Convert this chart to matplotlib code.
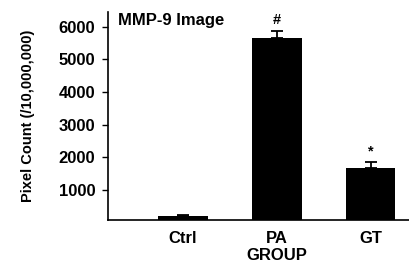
import numpy as np
import matplotlib.pyplot as plt

plt.rcParams['font.family'] = ['Liberation Sans', 'DejaVu Sans']
plt.rcParams['font.weight'] = 'bold'

groups = ["Ctrl", "PA", "GT"]
pixel_count = [210, 5640, 1670]
sem_upper = [35, 230, 170]
markers = ["", "#", "*"]
yticks = [1000, 2000, 3000, 4000, 5000, 6000]

fig = plt.figure(figsize=(4.1, 2.65), dpi=100)
ax = fig.add_axes([0.263, 0.17, 0.737, 0.785])

x = np.arange(len(groups))
ax.bar(x, pixel_count, width=0.53, color="black", zorder=2)
ax.errorbar(x, pixel_count, yerr=[np.zeros(len(x)), sem_upper], fmt="none",
            ecolor="black", elinewidth=1.3, capsize=4, capthick=1.3, zorder=1)

for xi, v, e, m in zip(x, pixel_count, sem_upper, markers):
    if m:
        ax.text(xi, v + e + 130, m, ha="center", va="bottom", fontsize=10.5, fontweight="bold")

ax.set_xlim(-0.8, 2.42)
ax.set_ylim(80, 6450)
ax.set_yticks(yticks)
ax.set_yticklabels([str(t) for t in yticks], fontsize=12, fontweight="bold")
ax.set_xticks(x)
ax.set_xticklabels(groups, fontsize=12, fontweight="bold")
ax.tick_params(axis="x", length=0, pad=8)
ax.tick_params(axis="y", length=4, width=1, direction="out", pad=5)

for s in ["top", "right"]:
    ax.spines[s].set_visible(False)
ax.spines["left"].set_linewidth(1.2)
ax.spines["bottom"].set_linewidth(1.2)

ax.set_ylabel("Pixel Count (/10,000,000)", fontsize=10.5, fontweight="bold", labelpad=17)
ax.text(0.035, 0.995, "MMP-9 Image", transform=ax.transAxes, ha="left", va="top",
        fontsize=12, fontweight="bold")
ax.text(1, -0.173, "GROUP", transform=ax.get_xaxis_transform(), ha="center", va="center",
        fontsize=12, fontweight="bold")

fig.savefig("out.png", dpi=100)
